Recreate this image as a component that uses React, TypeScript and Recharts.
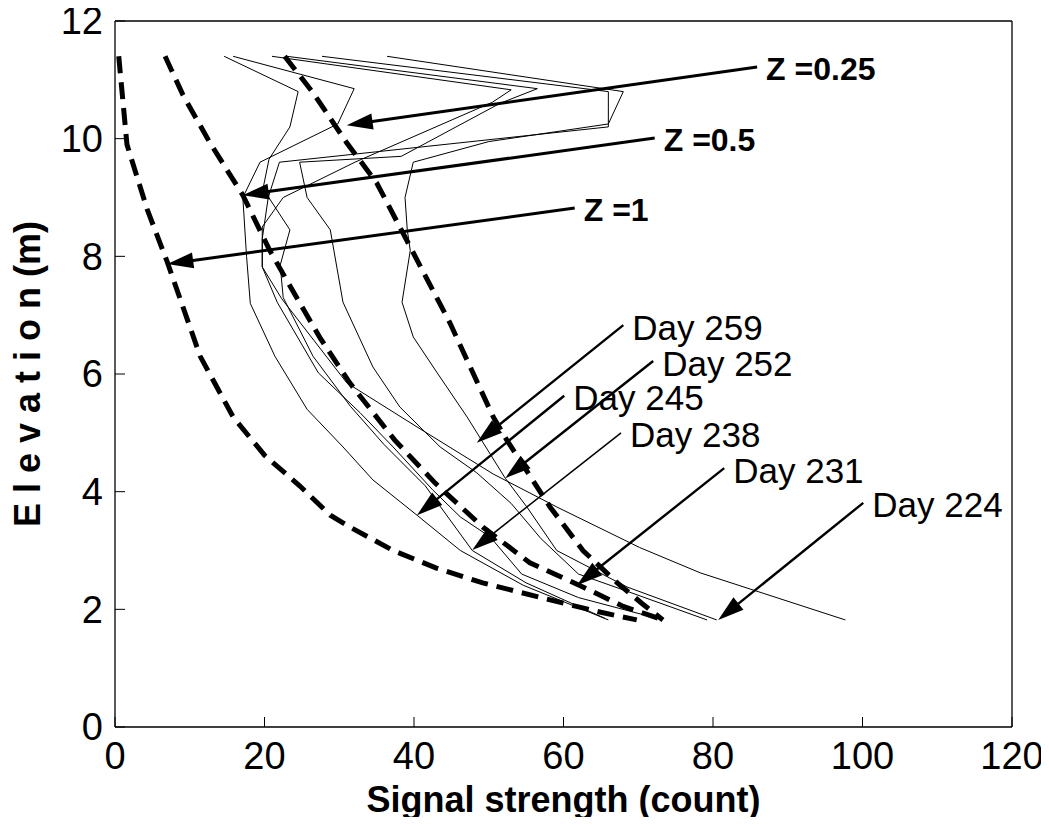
import { LineChart, Line, XAxis, YAxis, ReferenceLine } from "recharts";

const FONT = "'Liberation Sans', Arial, Helvetica, sans-serif";

// measured profiles: [signal (count), elevation (m)]
const day224 = [
  [21, 11.4], [53, 10.83], [50.5, 10.62], [32.1, 9.6], [22.5, 9.0], [19.7, 8.5], [19.7, 7.82],
  [22.3, 7.28], [31, 5.85], [40.4, 5.1], [50.6, 4.3], [59.1, 3.74], [70.2, 3.05], [78.3, 2.62], [97.7, 1.82],
];
const day231 = [
  [36.4, 11.4], [68, 10.8], [66, 10.25], [50, 9.95], [39.9, 9.6], [38.8, 9.0], [39.1, 8.45], [39.5, 8.1],
  [38.4, 7.22], [39.9, 6.63], [43.1, 6.02], [47.1, 5.27], [52.2, 4.23], [55.1, 3.74], [59.1, 3.0],
  [68.5, 2.38], [80.5, 1.82],
];
const day238 = [
  [23, 11.4], [56.5, 10.85], [51.5, 10.6], [38.3, 9.7], [24.7, 9.6], [25.7, 9.0], [28.8, 8.45],
  [30.5, 7.22], [34.5, 6.12], [38.1, 5.44], [43.5, 4.76], [48.4, 4.32], [53, 3.8], [57, 3.2],
  [62, 2.6], [68, 2.33], [79.2, 1.82],
];
const day245 = [
  [27.7, 11.4], [66, 10.8], [66, 10.2], [22, 9.6], [20.5, 9.0], [19.7, 8.3], [19.7, 7.82], [21.7, 7.22],
  [27.2, 6.02], [32.8, 5.34], [37.2, 4.76], [42.5, 4.03], [46.2, 3.57], [50.2, 3.23], [54.4, 2.6],
  [62, 2.2], [73, 1.83],
];
const day252 = [
  [14.6, 11.4], [24.5, 10.8], [23.4, 10.2], [20.6, 9.65], [19.8, 9.15], [23.4, 8.45], [22.1, 7.85],
  [22.5, 7.3], [26.5, 6.3], [31.5, 5.45], [36, 4.8], [41.5, 4.1], [47.8, 3.0], [55, 2.45], [65.5, 1.85],
];
const day259 = [
  [15.8, 11.4], [32, 10.85], [29.8, 10.25], [19.4, 9.6], [17.1, 9.0], [17.6, 8.0], [18.1, 7.2],
  [21.4, 6.3], [25.7, 5.4], [30.5, 4.76], [34.5, 4.2], [40.4, 3.6], [46.2, 3.0], [54.6, 2.41], [66, 1.82],
];

// model curves for Z = 0.25, 0.5, 1
const modelZ025 = [
  [22.7, 11.4], [26.5, 10.78], [31, 9.93], [35, 9.25], [39, 8.28], [44.8, 6.87], [50.6, 5.27],
  [52.4, 4.88], [58.2, 3.74], [62.6, 3.0], [67.2, 2.45], [70.5, 2.1], [73.3, 1.82],
];
const modelZ05 = [
  [6.7, 11.4], [9.1, 10.74], [12.7, 9.93], [17.1, 9.04], [20.7, 8.1], [24.3, 7.3], [27.5, 6.6],
  [31.4, 5.85], [37.4, 4.88], [42.8, 4.15], [49.2, 3.4], [55.5, 2.79], [62.6, 2.38], [68, 2.05], [73.3, 1.82],
];
const modelZ1 = [
  [0.5, 11.4], [1.6, 9.9], [4.3, 8.8], [7, 7.9], [11.4, 6.3], [15.8, 5.27], [20, 4.62], [24.7, 4.1],
  [28.8, 3.6], [31.4, 3.4], [37.2, 3.0], [43, 2.7], [49.2, 2.45], [58.2, 2.16], [65, 1.95], [69.8, 1.82],
];

const xTicks = [0, 20, 40, 60, 80, 100, 120];
const yTicks = [0, 2, 4, 6, 8, 10, 12];

// annotation arrows: label, tail and tip in data units
const zLabels = ["Z =0.25", "Z =0.5", "Z =1"];
const zTails = [[85.9, 11.22], [72.2, 10.01], [61.5, 8.82]];
const zTips = [[31.0, 10.23], [17.1, 9.04], [7.0, 7.87]];

const dayLabels = ["Day 259", "Day 252", "Day 245", "Day 238", "Day 231", "Day 224"];
const dayTails = [[68.0, 6.83], [72.0, 6.22], [60.1, 5.63], [67.7, 5.0], [81.5, 4.4], [100.1, 3.81]];
const dayTips = [[48.4, 4.83], [52.2, 4.23], [40.4, 3.6], [47.8, 3.01], [61.8, 2.41], [80.7, 1.82]];

const toPoints = (rows: number[][]) => rows.map(([x, y]) => ({ x, y }));

const profiles = [day224, day231, day238, day245, day252, day259];
const models = [modelZ025, modelZ05, modelZ1];

function arrowShape(text: string, bold: boolean, fontSize: number, weight: number) {
  return (p: any) => {
    const { x1, y1, x2, y2 } = p;
    const dx = x2 - x1;
    const dy = y2 - y1;
    const len = Math.hypot(dx, dy) || 1;
    const ux = dx / len;
    const uy = dy / len;
    const head = 26;
    const half = 8;
    const bx = x2 - ux * head;
    const by = y2 - uy * head;
    const pts = `${x2},${y2} ${bx - uy * half},${by + ux * half} ${bx + uy * half},${by - ux * half}`;
    return (
      <g>
        <line x1={x1} y1={y1} x2={bx + ux * 2} y2={by + uy * 2} stroke="#000" strokeWidth={weight} />
        <polygon points={pts} fill="#000" />
        <text
          x={x1 + 9}
          y={y1 + 2}
          dominantBaseline="central"
          fontFamily={FONT}
          fontSize={fontSize}
          fontWeight={bold ? "bold" : "normal"}
          fill="#000"
        >
          {text}
        </text>
      </g>
    );
  };
}

const tickStyle = { fill: "#000", fontSize: 38, fontFamily: FONT };
const axisLine = { stroke: "#000", strokeWidth: 1.3 };
const tickLine = { stroke: "#000", strokeWidth: 1 };

export default function App() {
  return (
    <div style={{ margin: -8, width: 1049, height: 825, overflow: "hidden" }}>
      <style>{"html, body { overflow: hidden; }"}</style>
      <LineChart width={1049} height={825} margin={{ top: 20, right: 36, bottom: 0, left: 0 }}>
        <XAxis
          type="number"
          dataKey="x"
          domain={[0, 120]}
          ticks={xTicks}
          interval={0}
          height={98}
          tickSize={-10}
          tickMargin={25}
          tick={tickStyle}
          axisLine={axisLine}
          tickLine={tickLine}
          label={{
            value: "Signal strength (count)",
            position: "insideBottom",
            offset: 13,
            style: { fill: "#000", fontSize: 36, fontWeight: "bold", fontFamily: FONT },
          }}
        />
        <XAxis
          xAxisId="top"
          orientation="top"
          type="number"
          domain={[0, 120]}
          ticks={xTicks}
          interval={0}
          height={1}
          tickSize={-10}
          tickFormatter={() => ""}
          axisLine={axisLine}
          tickLine={tickLine}
        />
        <YAxis
          type="number"
          dataKey="y"
          domain={[0, 12]}
          ticks={yTicks}
          interval={0}
          width={115}
          tickSize={-10}
          tickMargin={22}
          tick={tickStyle}
          axisLine={axisLine}
          tickLine={tickLine}
          label={{
            value: "E l e v a t i o n (m)",
            angle: -90,
            position: "insideLeft",
            offset: 27,
            style: { fill: "#000", fontSize: 36, fontWeight: "bold", fontFamily: FONT, textAnchor: "middle" },
          }}
        />
        <YAxis
          yAxisId="right"
          orientation="right"
          type="number"
          domain={[0, 12]}
          ticks={yTicks}
          interval={0}
          width={1}
          tickSize={-10}
          tickFormatter={() => ""}
          axisLine={axisLine}
          tickLine={tickLine}
        />

        {profiles.map((rows, i) => (
          <Line
            key={`day-${i}`}
            data={toPoints(rows)}
            dataKey="y"
            type="linear"
            stroke="#000"
            strokeWidth={1}
            dot={false}
            activeDot={false}
            isAnimationActive={false}
          />
        ))}
        {models.map((rows, i) => (
          <Line
            key={`z-${i}`}
            data={toPoints(rows)}
            dataKey="y"
            type="linear"
            stroke="#000"
            strokeWidth={5}
            strokeDasharray="17 9"
            dot={false}
            activeDot={false}
            isAnimationActive={false}
          />
        ))}

        {zLabels.map((label, i) => (
          <ReferenceLine
            key={label}
            segment={[
              { x: zTails[i][0], y: zTails[i][1] },
              { x: zTips[i][0], y: zTips[i][1] },
            ]}
            ifOverflow="visible"
            shape={arrowShape(label, true, 32, 3)}
          />
        ))}
        {dayLabels.map((label, i) => (
          <ReferenceLine
            key={label}
            segment={[
              { x: dayTails[i][0], y: dayTails[i][1] },
              { x: dayTips[i][0], y: dayTips[i][1] },
            ]}
            ifOverflow="visible"
            shape={arrowShape(label, false, 35, label === "Day 238" ? 1.5 : 2.4)}
          />
        ))}
      </LineChart>
    </div>
  );
}
